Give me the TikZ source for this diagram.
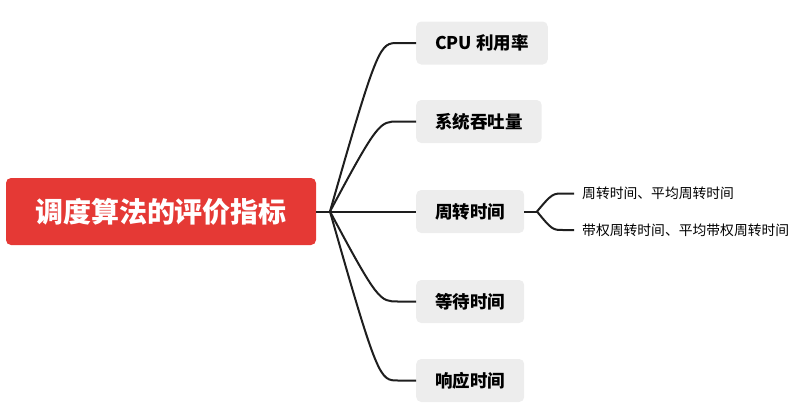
\documentclass[tikz,border=0pt]{standalone}
\usepackage{fontspec}
\usetikzlibrary{calc}
\newfontfamily\cjk{Noto Sans CJK SC}
\definecolor{rootred}{HTML}{E53935}
\definecolor{boxgray}{HTML}{EDEDED}
\definecolor{linec}{HTML}{1E1E1E}
\begin{document}
\begin{tikzpicture}[x=1pt,y=-1pt,
  rootbox/.style={fill=rootred,rounded corners=5pt,minimum width=310pt,minimum height=67pt,inner sep=0pt,text=white,font=\cjk\bfseries\fontsize{28}{30}\selectfont},
  childbox/.style={fill=boxgray,rounded corners=5pt,minimum height=43pt,inner xsep=19pt,inner ysep=0pt,anchor=west,text=black,font=\cjk\bfseries\fontsize{17.5}{19}\selectfont},
  leaf/.style={anchor=west,inner sep=0pt,text=black,font=\cjk\fontsize{13.8}{15}\selectfont},
  conn/.style={draw=linec,line width=2pt}]
\useasboundingbox (0,0) rectangle (796,407);
\node[rootbox] (root) at (161,211.5) {调度算法的评价指标};
\coordinate (hub) at (330,211.5);
\node[childbox] (c1) at (416,43) {CPU 利用率};
\node[childbox] (c2) at (416,121.5) {系统吞吐量};
\node[childbox] (c3) at (416,211.5) {周转时间};
\node[childbox] (c4) at (416,301.5) {等待时间};
\node[childbox] (c5) at (416,380.5) {响应时间};
\draw[conn] (root.east) -- (hub);
\foreach \c in {c1,c2,c4,c5}{
  \draw[conn] (hub) .. controls ($(hub|-\c.west)+(48,0)$) and ($(hub|-\c.west)+(50,0)$) .. ($(hub|-\c.west)+(68,0)$) -- (\c.west);
}
\draw[conn] (hub) -- (c3.west);
\coordinate (hub2) at (537,211.5);
\node[leaf] (l1) at (582,193.5) {周转时间、平均周转时间};
\node[leaf] (l2) at (582,230) {带权周转时间、平均带权周转时间};
\draw[conn] (c3.east) -- (hub2);
\foreach \l in {l1,l2}{
  \draw[conn] (hub2) .. controls ($(hub2|-\l.west)+(15,0)$) and ($(hub2|-\l.west)+(16,0)$) .. ($(hub2|-\l.west)+(26,0)$) -- ($(\l.west)+(-8,0)$);
}
\end{tikzpicture}
\end{document}
